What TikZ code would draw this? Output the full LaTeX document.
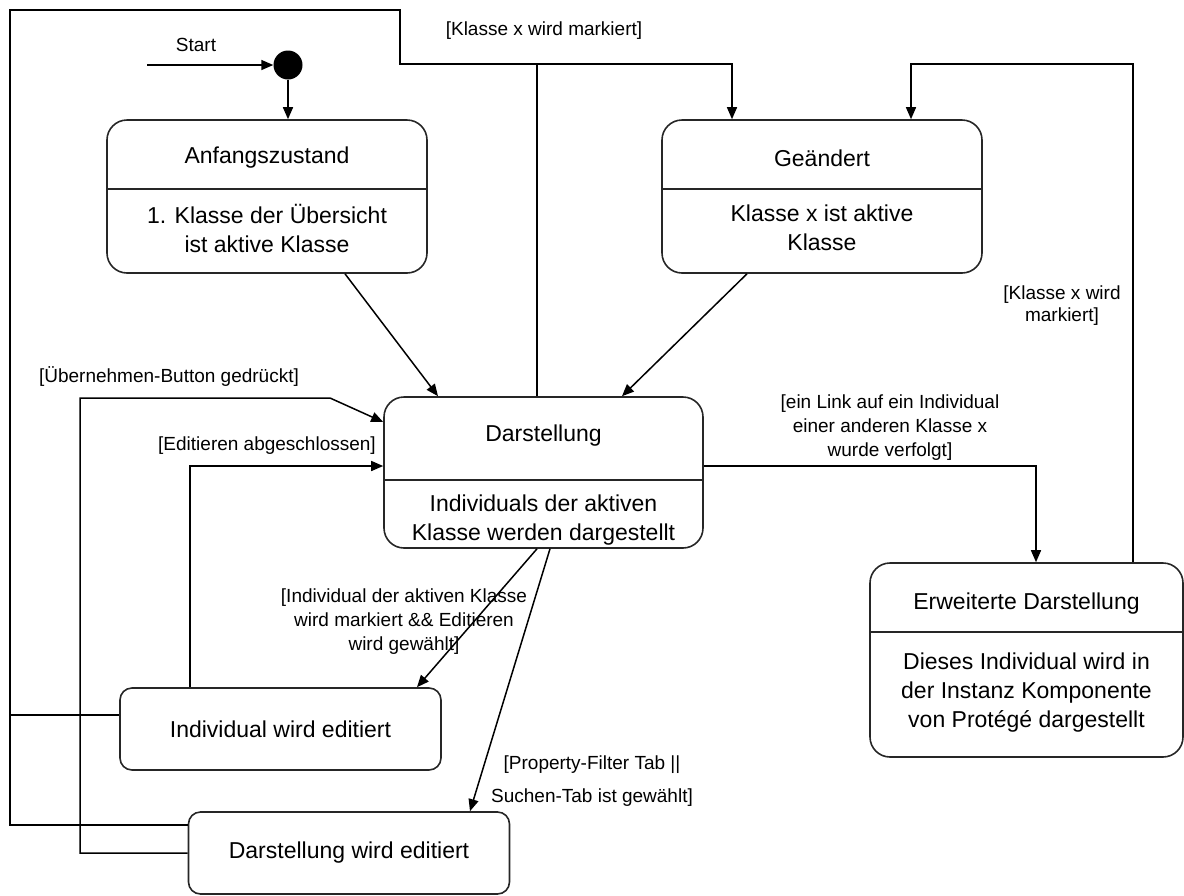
\documentclass[tikz,border=0pt]{standalone}
\usepackage{fontspec}
\setmainfont{Liberation Sans}
\usetikzlibrary{arrows.meta}

\begin{document}
\begin{tikzpicture}[x=1pt, y=-1pt, >={Triangle[length=12pt,width=10pt]},
  every node/.style={inner sep=0pt},
  state/.style={draw=black!85, line width=1.6pt, rounded corners=20pt},
  simple/.style={draw=black!85, line width=1.6pt, rounded corners=12pt, minimum width=321pt, minimum height=82pt, font=\fontsize{23}{29}\selectfont},
  txt/.style={font=\fontsize{23}{29}\selectfont, align=center},
  guard/.style={font=\fontsize{19}{24}\selectfont, align=center},
  flow/.style={line width=1.5pt}]
  \useasboundingbox (0,0) rectangle (1184,895);
  % start
  \node[guard] (startlbl) at (196,45) {Start};
  \node[circle, fill=black, minimum size=29pt] (init) at (288,65) {};
  \coordinate (startpt) at (147,65);
  \coordinate (lc) at (10,10);

  % states
  \node[state, minimum width=320pt, minimum height=153pt] (anf) at (267,196.5) {};
  \node[txt] (anfT) at (267,158) {Anfangszustand};
  \node[txt] (anfB) at (267,228) {1. Klasse der Übersicht\\ist aktive Klasse};
  \draw[state] (anf.west |- 0,189) -- (anf.east |- 0,189);

  \node[state, minimum width=320pt, minimum height=153pt] (gea) at (822,196.5) {};
  \node[txt] (geaT) at (822,158) {Geändert};
  \node[txt] (geaB) at (822,228) {Klasse x ist aktive\\Klasse};
  \draw[state] (gea.west |- 0,189) -- (gea.east |- 0,189);

  \node[state, minimum width=319pt, minimum height=151pt] (darst) at (543.5,472.5) {};
  \node[txt] (darstT) at (543.5,436) {Darstellung};
  \node[txt] (darstB) at (543.5,520) {Individuals der aktiven\\Klasse werden dargestellt};
  \draw[state] (darst.west |- 0,480) -- (darst.east |- 0,480);

  \node[state, minimum width=313pt, minimum height=194pt] (erw) at (1026.5,660) {};
  \node[txt] (erwT) at (1026.5,604) {Erweiterte Darstellung};
  \node[txt] (erwB) at (1026.5,693) {Dieses Individual wird in\\der Instanz Komponente\\von Protégé dargestellt};
  \draw[state] (erw.west |- 0,632) -- (erw.east |- 0,632);

  \node[simple] (indiv) at (280.5,729) {Individual wird editiert};
  \node[simple] (dwe) at (349,853) {Darstellung wird editiert};

  % transitions
  \draw[flow,->] (startpt) -- (init);
  \draw[flow,->] (init) -- (init |- anf.north);
  \draw[flow,->] ([xshift=78pt]anf.south) -- ([xshift=-105.5pt]darst.north);
  \draw[flow,->] ([xshift=-75pt]gea.south) -- ([xshift=78.5pt]darst.north);
  \draw[flow,->] ([yshift=14pt]indiv.west) -| (lc) -| (400,64) -| ([xshift=-90pt]gea.north);
  \draw[flow] ([yshift=28pt]dwe.west) -| (lc);
  \draw[flow] ([xshift=-6.5pt]darst.north) -- ([xshift=-6.5pt]darst.north |- 0,64);
  \draw[flow,->] (dwe.west) -| (80,398) -- (330,398) -- (darst.west |- 0,422);
  \draw[flow,->] (indiv.north -| 190,0) |- (darst.west |- 0,466);
  \draw[flow,->] (darst.east |- 0,466) -| (erw.north -| 1036,0);
  \draw[flow,->] (erw.north -| 1133,0) -- (1133,64) -| ([xshift=89pt]gea.north);
  \draw[flow,->] ([xshift=-6.5pt]darst.south) -- (indiv.north -| 417,0);
  \draw[flow,->] ([xshift=6.5pt]darst.south) -- (dwe.north -| 470,0);

  % guards
  \node[guard] (lblA) at (544,31) {[Klasse x wird markiert]};
  \node[guard] (lblB) at (169,377) {[Übernehmen-Button gedrückt]};
  \node[guard] (lblC) at (267,446) {[Editieren abgeschlossen]};
  \node[guard] (lblD) at (1062,306) {[Klasse x wird\\[-2pt]markiert]};
  \node[guard] (lblE) at (890,428) {[ein Link auf ein Individual\\einer anderen Klasse x\\wurde verfolgt]};
  \node[guard] (lblF) at (404,622) {[Individual der aktiven Klasse\\wird markiert \&\& Editieren\\wird gewählt]};
  \node[guard] (lblG) at (592,781) {[Property-Filter Tab ||\\[9pt]Suchen-Tab ist gewählt]};
\end{tikzpicture}
\end{document}
